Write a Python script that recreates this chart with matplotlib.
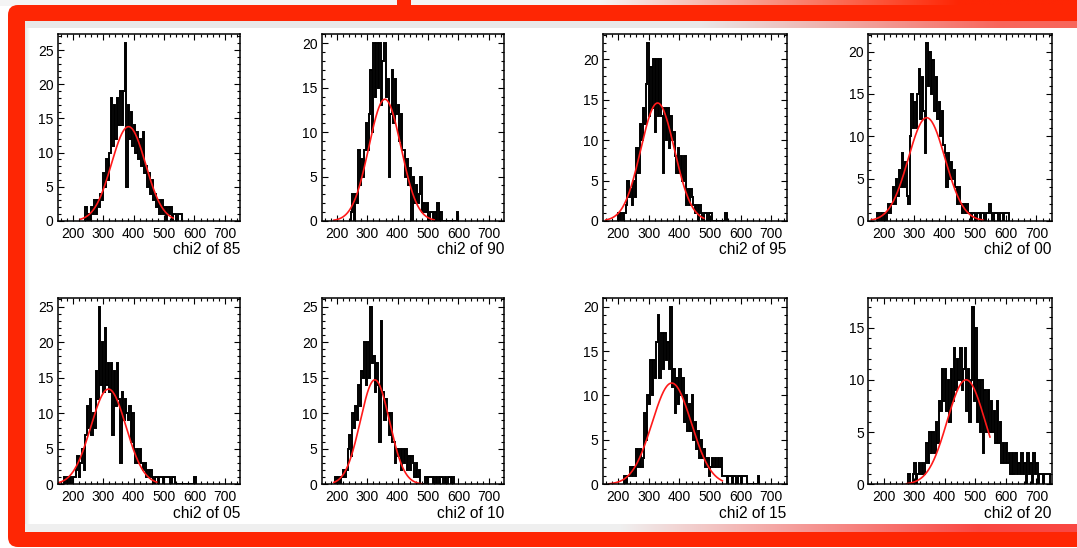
import numpy as np
import matplotlib
matplotlib.use("Agg")
import matplotlib.pyplot as plt
from matplotlib.patches import FancyBboxPatch, Rectangle
from matplotlib.ticker import MultipleLocator

plt.rcParams['font.family'] = ['Liberation Sans', 'DejaVu Sans']

# ---------------------------------------------------------------- data
BIN = 5.0
X_MIN, X_MAX = 150, 750

titles = ['chi2 of 85', 'chi2 of 90', 'chi2 of 95', 'chi2 of 00',
          'chi2 of 05', 'chi2 of 10', 'chi2 of 15', 'chi2 of 20']

# left edge of the first listed bin for each histogram
first_edge = [235, 240, 200, 180, 170, 195, 220, 280]

counts_85 = [0, 2, 0, 1, 0, 2, 1, 3, 1, 3, 2, 4, 3, 7, 5, 9, 6, 10, 18, 11,
             17, 12, 18, 14, 19, 14, 19, 26, 5, 17, 12, 16, 11, 14, 10, 13,
             9, 12, 8, 13, 7, 8, 5, 7, 4, 6, 3, 4, 2, 3, 1, 3, 1, 2, 0, 2, 1,
             2, 0, 1, 1, 0, 1, 1, 1]
counts_90 = [0, 1, 3, 0, 3, 2, 8, 4, 7, 5, 8, 11, 8, 12, 17, 10, 20, 14, 20,
             15, 20, 13, 18, 20, 14, 16, 5, 12, 17, 11, 16, 12, 13, 9, 12, 8,
             8, 5, 7, 4, 6, 0, 5, 2, 4, 2, 3, 5, 1, 2, 1, 2, 0, 1, 1, 0, 1, 0,
             2, 0, 1, 0, 0, 0, 0, 0, 0, 0, 0, 0, 0, 1]
counts_95 = [1, 0, 1, 0, 1, 2, 5, 3, 4, 2, 5, 3, 9, 6, 12, 10, 14, 12, 17,
             22, 13, 19, 14, 20, 11, 20, 13, 20, 13, 6, 14, 10, 14, 9, 13, 10,
             11, 8, 6, 9, 6, 8, 5, 8, 2, 4, 2, 4, 3, 2, 1, 2, 0, 2, 1, 0, 1, 1,
             0, 1, 1, 0, 0, 0, 0, 0, 0, 0, 0, 0, 1]
counts_00 = [1, 0, 1, 0, 1, 0, 1, 2, 1, 2, 4, 2, 5, 3, 6, 4, 8, 4, 7, 3, 2,
             10, 15, 11, 14, 11, 15, 18, 12, 17, 13, 8, 21, 16, 20, 15, 19, 13,
             17, 12, 14, 10, 13, 9, 8, 4, 8, 5, 7, 5, 6, 4, 2, 4, 2, 1, 2, 1,
             2, 1, 1, 0, 1, 1, 0, 1, 1, 0, 1, 1, 0, 1, 1, 2, 1, 0, 1, 1, 1, 0,
             1, 1, 0, 1, 1, 1]
counts_05 = [1, 0, 1, 0, 1, 0, 1, 1, 2, 4, 1, 3, 5, 2, 7, 11, 8, 12, 7, 10, 8,
             16, 12, 25, 14, 20, 13, 22, 14, 17, 13, 17, 7, 16, 11, 17, 12, 3,
             13, 9, 12, 10, 9, 11, 6, 10, 5, 3, 5, 3, 5, 3, 2, 3, 1, 2, 1, 2,
             1, 0, 1, 1, 0, 1, 1, 0, 1, 1, 1, 1, 0, 1, 1, 0, 0, 0, 0, 0, 0, 0,
             0, 0, 0, 0, 0, 0, 1]
counts_10 = [1, 0, 1, 0, 1, 2, 1, 2, 5, 7, 4, 10, 8, 11, 9, 14, 11, 16, 15,
             20, 14, 20, 15, 25, 17, 18, 13, 17, 14, 6, 23, 13, 9, 12, 10, 7,
             10, 6, 6, 3, 5, 4, 5, 2, 5, 3, 5, 2, 4, 2, 4, 3, 1, 3, 1, 2, 0, 0,
             0, 1, 0, 1, 1, 1, 0, 1, 0, 1, 0, 1, 1, 0, 1, 0, 1, 1, 0, 1]
counts_15 = [1, 0, 1, 1, 2, 1, 2, 1, 4, 2, 4, 2, 3, 8, 5, 10, 9, 14, 10, 14,
             12, 16, 19, 12, 17, 13, 17, 14, 16, 13, 20, 11, 13, 8, 12, 9, 13,
             10, 12, 7, 10, 6, 9, 6, 10, 5, 7, 4, 6, 3, 5, 3, 4, 2, 3, 1, 2, 3,
             2, 3, 2, 3, 2, 3, 1, 1, 1, 0, 1, 1, 0, 1, 1, 0, 1, 1, 0, 1, 1, 1,
             0, 0, 0, 0, 0, 0, 0, 1]
counts_20 = [1, 0, 0, 1, 2, 0, 1, 2, 1, 2, 1, 2, 4, 2, 5, 3, 5, 3, 6, 4, 8,
             7, 11, 8, 11, 7, 10, 6, 11, 8, 13, 9, 12, 10, 13, 9, 11, 13, 7,
             11, 6, 10, 17, 8, 15, 6, 10, 5, 10, 3, 9, 5, 9, 5, 8, 5, 7, 4, 8,
             4, 6, 2, 4, 2, 4, 2, 3, 1, 3, 1, 3, 1, 2, 1, 3, 1, 2, 0, 3, 1, 2,
             0, 3, 1, 2, 0, 1, 1, 0, 1, 1, 1, 1]

all_counts = [counts_85, counts_90, counts_95, counts_00,
              counts_05, counts_10, counts_15, counts_20]

# gaussian fit results: amplitude, mean, sigma and fitted range
fit_amp = [13.8, 13.7, 14.6, 12.2, 13.4, 14.7, 11.4, 10.0]
fit_mean = [383, 358, 329, 341, 317, 325, 375, 470]
fit_sigma = [56, 53, 55, 60, 58, 48, 64, 62]
fit_lo = [225, 190, 160, 160, 152, 190, 170, 275]
fit_hi = [530, 520, 480, 525, 476, 480, 540, 548]

# ---------------------------------------------------------------- figure
W, H = 1077, 548
fig = plt.figure(figsize=(W / 100, H / 100), dpi=100)

RED = np.array([254, 38, 4]) / 255.0

# background layer in pixel coordinates (y down)
bg = fig.add_axes([0, 0, 1, 1])
bg.set_xlim(0, W)
bg.set_ylim(H, 0)
bg.axis('off')


def hgrad(x0, x1, y0, y1, ramp0, ramp1, c0, c1, z=1):
    xs = np.linspace(x0, x1, 400)
    t = np.clip((xs - ramp0) / (ramp1 - ramp0), 0, 1)[:, None]
    row = c0[None, :] * (1 - t) + c1[None, :] * t
    bg.imshow(row[None, :, :], extent=(x0, x1, y1, y0), aspect='auto',
              interpolation='bilinear', zorder=z)


# strip above the frame
hgrad(0, W, 0, 6, 600, 960, np.array([0.96, 0.96, 0.96]), RED, z=1)
bg.add_patch(Rectangle((397, 0), 14, 7, color=RED, zorder=2, lw=0))

# red rounded frame
bg.add_patch(FancyBboxPatch((8, 5), W + 40, 542,
                            boxstyle='round,pad=0,rounding_size=10',
                            facecolor=RED, edgecolor='none', zorder=3))
# inner white page
bg.add_patch(Rectangle((25, 21), W, 511, facecolor='white',
                       edgecolor='none', zorder=4))
# soft bands inside the frame
hgrad(25, W, 21, 28, 700, 1000, np.array([0.91, 0.91, 0.91]),
      np.array([0.97, 0.40, 0.36]), z=5)
hgrad(25, W, 524, 532, 620, 980, np.array([0.94, 0.94, 0.94]),
      np.array([0.98, 0.28, 0.26]), z=5)
hgrad(25, 30, 28, 524, 25, 30, np.array([0.90, 0.90, 0.90]),
      np.array([1.0, 1.0, 1.0]), z=5)

# ---------------------------------------------------------------- panels
col_left = [57.7, 321.7, 602.7, 868.3]
col_width = [182.3, 182.3, 184.0, 183.4]
row_top = [34.3, 297.7]
panel_h = 186.7

for i in range(8):
    r, c = divmod(i, 4)
    left = col_left[c] / W
    bottom = (H - row_top[r] - panel_h) / H
    ax = fig.add_axes([left, bottom, col_width[c] / W, panel_h / H])
    ax.set_facecolor('none')

    cnt = np.asarray(all_counts[i], dtype=float)
    edges = first_edge[i] + BIN * np.arange(len(cnt) + 1)
    ax.stairs(cnt, edges, color='black', lw=1.4, baseline=0)

    xf = np.linspace(fit_lo[i], fit_hi[i], 300)
    yf = fit_amp[i] * np.exp(-0.5 * ((xf - fit_mean[i]) / fit_sigma[i]) ** 2)
    ax.plot(xf, yf, color='#ff1a1a', lw=1.2)

    ax.set_xlim(X_MIN, X_MAX)
    ax.set_ylim(0, 1.05 * cnt.max())
    ax.xaxis.set_major_locator(MultipleLocator(100))
    ax.xaxis.set_minor_locator(MultipleLocator(20))
    ax.yaxis.set_major_locator(MultipleLocator(5))
    ax.yaxis.set_minor_locator(MultipleLocator(1))
    ax.tick_params(which='both', direction='in', top=True, right=True,
                   width=0.8, colors='black', labelsize=10)
    ax.tick_params(axis='x', which='major', length=4.0, pad=4)
    ax.tick_params(axis='x', which='minor', length=2.0)
    ax.tick_params(axis='y', which='major', length=4.0, pad=3)
    ax.tick_params(axis='y', which='minor', length=2.0)
    for s in ax.spines.values():
        s.set_linewidth(1.1)
    ax.text(1.0, -29.0 / panel_h, titles[i], transform=ax.transAxes,
            ha='right', va='center', fontsize=11.2)

fig.savefig('out.png', dpi=100)
